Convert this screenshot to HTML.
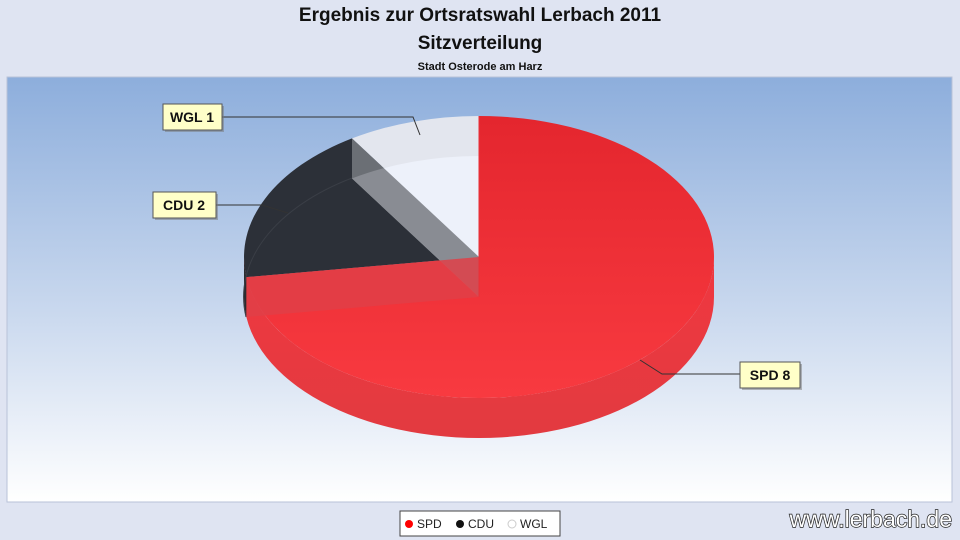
<!DOCTYPE html>
<html><head><meta charset="utf-8"><style>
body{margin:0;width:960px;height:540px;background:#dfe4f2;overflow:hidden;font-family:"Liberation Sans",sans-serif;position:relative}
.t{position:absolute;left:0;width:960px;text-align:center;font-weight:bold;color:#111}
</style></head><body>
<div class="t" style="top:5px;font-size:19px">Ergebnis zur Ortsratswahl Lerbach 2011</div>
<div class="t" style="top:33px;font-size:19px">Sitzverteilung</div>
<div class="t" style="top:61px;font-size:11px">Stadt Osterode am Harz</div>
<svg width="960" height="540" style="position:absolute;left:0;top:0">
<defs>
<linearGradient id="bg" x1="0" y1="0" x2="0" y2="1"><stop offset="0" stop-color="#8daedc"/><stop offset="0.55" stop-color="#c9d8ee"/><stop offset="1" stop-color="#ffffff"/></linearGradient>
<linearGradient id="red" x1="0" y1="0" x2="0" y2="1"><stop offset="0" stop-color="#e4262e"/><stop offset="1" stop-color="#f83a40"/></linearGradient>
<linearGradient id="side" x1="0" y1="0" x2="0" y2="1"><stop offset="0" stop-color="#f03840"/><stop offset="1" stop-color="#e23a40"/></linearGradient>
</defs>
<rect x="7" y="77" width="945" height="425" fill="url(#bg)" stroke="#b8c2d8"/>
<path d="M714,257 A235 141 0 0 1 244,257 L244,297 A235 141 0 0 0 714,297 Z" fill="url(#side)"/>
<path d="M246.4,277.1 A235 141 0 0 1 244,257 L244,297 A235 141 0 0 0 246.4,317 Z" fill="#2a2c30"/>
<path d="M479,257 L479,116 A235 141 0 1 1 246.4,277.1 Z" fill="url(#red)"/>
<path d="M479,257 L246.4,277.1 A235 141 0 0 1 352,138.4 Z" fill="#2c3038"/>
<path d="M479,257 L352,138.4 A235 141 0 0 1 479,116 Z" fill="#e3e6ee"/>
<path d="M352,178.4 A235 141 0 0 1 479,156 L479,297 Z" fill="#edf1fa"/>
<path d="M246,317 A235 141 0 0 1 352,178" fill="none" stroke="#3a3e46" stroke-width="1"/>
<path d="M479,257 L352,138.4 L352,178.4 L479,297 Z" fill="#777a80" fill-opacity="0.85"/>
<path d="M479,257 L246.4,277.1 L246.4,317 L479,297 Z" fill="#e04048" fill-opacity="0.85"/>
<line x1="479" y1="116" x2="479" y2="297" stroke="#e83038"/>
<polyline points="222,117 413,117 420,135" fill="none" stroke="#333"/>
<polyline points="216,205 262,205 288,213" fill="none" stroke="#333"/>
<polyline points="740,374 662,374 640,360" fill="none" stroke="#333"/>
<g font-family="Liberation Sans" font-weight="bold" font-size="14" fill="#111">
<rect x="165" y="106" width="59" height="26" fill="#777" opacity=".5"/>
<rect x="163" y="104" width="59" height="26" fill="#ffffc8" stroke="#555"/>
<text x="192" y="122" text-anchor="middle">WGL 1</text>
<rect x="155" y="194" width="63" height="26" fill="#777" opacity=".5"/>
<rect x="153" y="192" width="63" height="26" fill="#ffffc8" stroke="#555"/>
<text x="184" y="210" text-anchor="middle">CDU 2</text>
<rect x="742" y="364" width="60" height="26" fill="#777" opacity=".5"/>
<rect x="740" y="362" width="60" height="26" fill="#ffffc8" stroke="#555"/>
<text x="770" y="380" text-anchor="middle">SPD 8</text>
</g>
<rect x="400" y="511" width="160" height="25" fill="#fff" stroke="#444"/>
<g font-family="Liberation Sans" font-size="12" fill="#222">
<circle cx="409" cy="524" r="4" fill="#f00"/><text x="417" y="528">SPD</text>
<circle cx="460" cy="524" r="4" fill="#111"/><text x="468" y="528">CDU</text>
<circle cx="512" cy="524" r="4" fill="#fff" stroke="#ccc"/><text x="520" y="528">WGL</text>
</g>
<text x="952" y="527" text-anchor="end" font-family="Liberation Sans" font-size="23" fill="#fff" stroke="#222" stroke-width="1.4" paint-order="stroke">www.lerbach.de</text>
</svg>
</body></html>
